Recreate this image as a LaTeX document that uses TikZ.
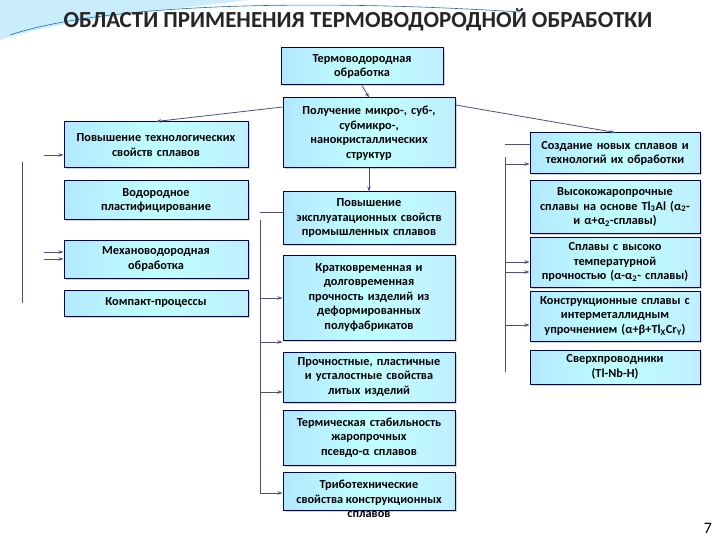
\documentclass[tikz,border=0pt]{standalone}
\usepackage{fontspec}
\setmainfont{Carlito}
\usetikzlibrary{arrows.meta,shadows}
\newcommand{\sbs}[1]{\textsubscript{#1}}
\begin{document}
\begin{tikzpicture}[x=1pt,y=-1pt,
 bx/.style={draw=black!60!blue,line width=1pt,left color=blue!30!cyan!30,right color=blue!25!cyan!25,middle color=white!75!cyan,
   drop shadow={shadow xshift=1.5pt,shadow yshift=-1.5pt,opacity=.35},align=center,font=\fontsize{12.3}{14.5}\selectfont\bfseries,inner sep=1pt},
 ln/.style={draw=blue!40!black!70,line width=0.8pt},
 ar/.style={ln,-{Stealth[length=5pt,width=3.5pt]}}]
\useasboundingbox (0,0) rectangle (720,540);
\fill[white] (0,0) rectangle (720,540);
\fill[cyan!35!white,opacity=.6] (0,0) -- (250,0) .. controls (160,10) and (60,20) .. (0,40) -- cycle;
\draw[cyan!50!blue,line width=0.6pt] (10,35) .. controls (100,5) and (300,-2) .. (520,12);
\node[font=\fontsize{23}{25}\selectfont\bfseries,text=black!85] (title) at (358,20) {ОБЛАСТИ ПРИМЕНЕНИЯ ТЕРМОВОДОРОДНОЙ ОБРАБОТКИ};
\def\B#1#2#3#4#5#6{\node[bx,minimum width=#4-#3,minimum height=#6-#5,text width=#4-#3-2] (#1) at ({(#3+#4)/2},{(#5+#6)/2}) {#2};}
\B{top}{Термоводородная\\обработка}{281}{443}{48}{85}
\B{pol}{Получение микро-, суб-,\\субмикро-,\\нанокристаллических\\структур}{283}{455}{98}{168}
\B{tech}{Повышение технологических\\свойств сплавов}{64}{248}{122}{168}
\B{vod}{Водородное\\пластифицирование}{64}{248}{181}{220}
\B{mech}{Механоводородная\\обработка}{64}{248}{240}{278}
\B{komp}{Компакт-процессы}{64}{248}{290}{316}
\B{expl}{Повышение\\эксплуатационных свойств\\промышленных сплавов}{283}{455}{192}{244}
\B{krat}{Кратковременная и\\долговременная\\прочность изделий из\\деформированных\\полуфабрикатов}{283}{455}{255}{340}
\B{proch}{Прочностные, пластичные\\и усталостные свойства\\литых изделий}{283}{455}{352}{402}
\B{term}{Термическая стабильность\\жаропрочных\\псевдо-α сплавов}{283}{455}{410}{465}
\node[bx,minimum width=172,minimum height=38,text width=170] (tribo) at (369,491) {};
\node[align=center,font=\fontsize{12.3}{14.5}\selectfont\bfseries] (tribot) at (369,499) {Триботехнические\\свойства конструкционных\\сплавов};
\B{soz}{Создание новых сплавов и\\технологий их обработки}{530}{700}{133}{174}
\B{vys}{Высокожаропрочные\\сплавы на основе Tl\sbs{3}Al (α\sbs{2}-\\и α+α\sbs{2}-сплавы)}{530}{700}{181}{233}
\B{spl}{Сплавы с высоко\\температурной\\прочностью (α-α\sbs{2}- сплавы)}{530}{700}{237}{287}
\B{kon}{Конструкционные сплавы с\\интерметаллидным\\упрочнением (α+β+Tl\sbs{X}Cr\sbs{Y})}{530}{700}{291}{341}
\B{sver}{Сверхпроводники\\(Tl-Nb-H)}{530}{700}{350}{384}
\node[font=\fontsize{16}{18}\selectfont] (pg) at (708,528) {7};
% connectors
\draw[ar] (top.south) -- (pol.north);
\draw[ar] (pol.south) -- (expl.north);
\draw[ar] (pol.west |- 0,107) -- (tech.north);
\draw[ar] (pol.east |- 0,105) -- (soz.north);
% left bracket
\coordinate (l1) at (22,162); \coordinate (l2) at (22,303);
\draw[ln] (l1) -- (l2);
\coordinate (la) at (44,155); \coordinate (lb) at (44,252); \coordinate (lc) at (44,259);
\draw[ar] (la) -- (la -| tech.west);
\draw[ar] (lb) -- (lb -| mech.west);
\draw[ar] (lc) -- (lc -| mech.west);
% middle bracket
\coordinate (m0) at (260,212); \coordinate (m1) at (260,220); \coordinate (m2) at (260,493);
\draw[ln] (m0) -- (m0 -| expl.west);
\draw[ln] (m1) -- (m2);
\foreach \y in {298,342,392,493} {\coordinate (mm) at (260,\y); \draw[ar] (mm) -- (mm -| krat.west);}
% right bracket
\coordinate (r0) at (505,144); \coordinate (r1) at (505,157); \coordinate (r2) at (505,372);
\draw[ln] (r0) -- (r0 -| soz.west);
\draw[ln] (r1) -- (r2);
\foreach \y in {164,262,272,325} {\coordinate (rr) at (505,\y); \draw[ar] (rr) -- (rr -| soz.west);}
\end{tikzpicture}
\end{document}
